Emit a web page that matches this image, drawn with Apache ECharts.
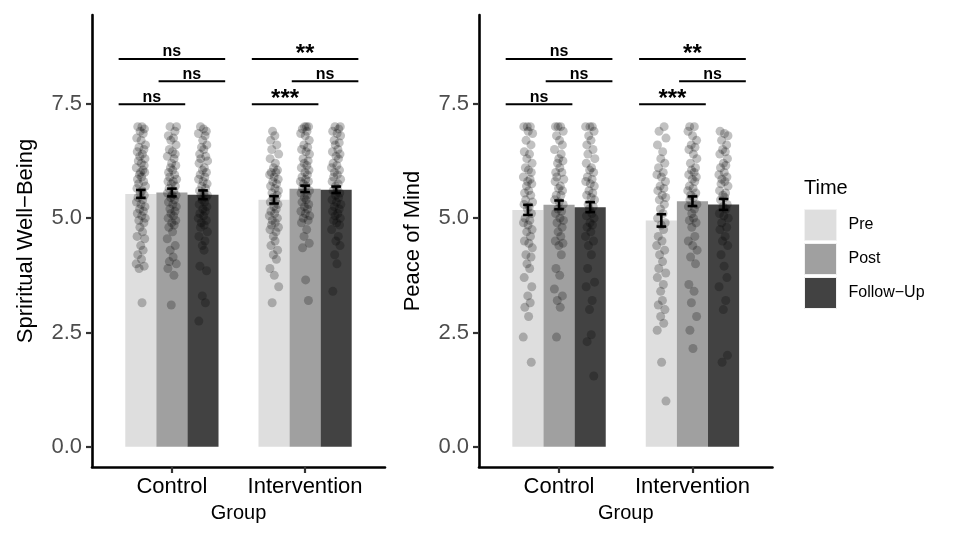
<!DOCTYPE html>
<html><head><meta charset="utf-8">
<script src="https://cdn.jsdelivr.net/npm/echarts@6/dist/echarts.min.js"></script>
<style>html,body{margin:0;padding:0;background:#fff}#c{width:956px;height:539px}</style>
</head><body><div id="c"></div>
<script>
const groups = ['Control', 'Intervention'];
const times = ['Pre', 'Post', 'Follow\u2212Up'];
const yTicks = [0, 2.5, 5, 7.5];
const xTicks = [1, 2];
const panelTitles = ['Spriritual Well\u2212Being', 'Peace of Mind'];
const xTitle = 'Group';
const legendTitle = 'Time';

// bar means and standard errors, order [Pre, Post, Follow-Up]
const swbMeanControl = [5.53, 5.56, 5.51];
const swbMeanIntervention = [5.40, 5.64, 5.62];
const swbSeControl = [0.087, 0.085, 0.095];
const swbSeIntervention = [0.08, 0.07, 0.07];
const pomMeanControl = [5.18, 5.29, 5.24];
const pomMeanIntervention = [4.95, 5.37, 5.30];
const pomSeControl = [0.11, 0.095, 0.11];
const pomSeIntervention = [0.135, 0.105, 0.12];

// individual scores (read from the jittered points)
const swbControlPre = [7.0,7.0,6.95,6.9,6.85,6.75,6.7,6.6,6.55,6.5,6.45,6.4,6.35,6.3,6.25,6.2,6.15,6.1,6.05,6.0,6.0,5.95,5.9,5.85,5.8,5.75,5.7,5.65,5.6,5.55,5.5,5.45,5.4,5.35,5.3,5.25,5.2,5.15,5.1,5.05,5.0,4.95,4.9,4.8,4.7,4.6,4.55,4.4,4.3,4.2,4.1,4.0,3.95,3.9,3.15];
const swbControlPost = [7.0,7.0,6.9,6.8,6.75,6.7,6.6,6.5,6.45,6.4,6.35,6.3,6.2,6.15,6.1,6.05,6.0,5.95,5.9,5.85,5.8,5.8,5.75,5.7,5.65,5.6,5.55,5.5,5.5,5.45,5.4,5.35,5.3,5.25,5.2,5.15,5.1,5.05,5.0,4.95,4.9,4.85,4.8,4.7,4.55,4.4,4.3,4.15,4.05,4.0,3.9,3.75,3.1];
const swbControlFollow = [7.0,6.95,6.9,6.85,6.8,6.7,6.6,6.55,6.5,6.4,6.35,6.3,6.25,6.2,6.1,6.05,6.0,5.95,5.9,5.85,5.8,5.75,5.7,5.65,5.6,5.55,5.5,5.5,5.45,5.4,5.35,5.3,5.25,5.2,5.15,5.1,5.05,5.0,4.95,4.9,4.85,4.8,4.7,4.6,4.5,4.4,4.3,3.95,3.85,3.3,3.15,2.75];
const swbInterventionPre = [6.9,6.8,6.7,6.6,6.5,6.4,6.3,6.2,6.1,6.05,6.0,6.0,5.95,5.9,5.85,5.8,5.75,5.7,5.65,5.6,5.55,5.5,5.45,5.4,5.35,5.3,5.25,5.2,5.15,5.1,5.05,5.0,4.95,4.9,4.85,4.8,4.75,4.7,4.6,4.5,4.4,4.3,4.2,4.1,3.9,3.75,3.5,3.15];
const swbInterventionPost = [7.0,7.0,7.0,6.95,6.9,6.85,6.8,6.7,6.6,6.55,6.5,6.45,6.4,6.3,6.25,6.2,6.15,6.1,6.05,6.0,5.95,5.9,5.85,5.8,5.8,5.75,5.7,5.65,5.6,5.55,5.5,5.45,5.4,5.35,5.3,5.25,5.2,5.15,5.1,5.05,5.0,4.95,4.9,4.75,4.6,4.45,4.35,3.65,3.2];
const swbInterventionFollow = [7.0,7.0,6.95,6.9,6.85,6.8,6.7,6.65,6.6,6.5,6.45,6.4,6.35,6.3,6.2,6.15,6.1,6.05,6.0,5.95,5.9,5.85,5.8,5.75,5.7,5.65,5.6,5.55,5.5,5.45,5.4,5.35,5.3,5.25,5.2,5.15,5.1,5.05,5.0,4.95,4.9,4.85,4.75,4.6,4.5,4.4,4.2,4.0,3.4];
const pomControlPre = [7.0,7.0,7.0,6.9,6.85,6.7,6.6,6.45,6.4,6.3,6.2,6.1,6.05,6.0,5.9,5.85,5.8,5.75,5.7,5.6,5.55,5.5,5.4,5.35,5.3,5.25,5.2,5.1,5.0,4.95,4.9,4.85,4.75,4.7,4.6,4.5,4.45,4.35,4.2,4.15,4.0,3.9,3.7,3.5,3.3,3.15,3.05,2.85,2.4,1.85];
const pomControlPost = [7.0,7.0,7.0,6.9,6.8,6.7,6.6,6.5,6.4,6.3,6.25,6.2,6.1,6.0,6.0,5.9,5.85,5.8,5.7,5.65,5.6,5.5,5.5,5.4,5.35,5.3,5.2,5.15,5.1,5.0,4.95,4.9,4.8,4.7,4.6,4.5,4.45,4.4,4.2,3.9,3.75,3.45,3.3,3.2,3.05,2.4];
const pomControlFollow = [7.0,7.0,7.0,6.9,6.8,6.7,6.6,6.5,6.4,6.3,6.2,6.1,6.05,6.0,5.9,5.85,5.8,5.75,5.7,5.6,5.55,5.5,5.45,5.4,5.3,5.25,5.2,5.1,5.05,5.0,4.9,4.85,4.8,4.7,4.6,4.5,4.4,4.2,3.9,3.6,3.5,3.2,3.0,2.45,2.3,1.55];
const pomInterventionPre = [7.0,6.9,6.75,6.6,6.45,6.3,6.2,6.1,6.0,5.95,5.9,5.8,5.7,5.65,5.6,5.5,5.45,5.4,5.3,5.2,5.1,5.0,4.9,4.85,4.75,4.6,4.5,4.4,4.3,4.2,4.05,3.9,3.8,3.7,3.55,3.4,3.2,3.1,3.0,2.85,2.7,2.55,1.85,1.0];
const pomInterventionPost = [7.0,7.0,6.9,6.8,6.7,6.6,6.55,6.5,6.4,6.3,6.2,6.1,6.05,6.0,5.95,5.9,5.85,5.8,5.7,5.65,5.6,5.55,5.5,5.45,5.4,5.3,5.25,5.2,5.1,5.0,4.95,4.9,4.8,4.6,4.5,4.4,4.3,4.15,4.0,3.55,3.4,3.15,2.85,2.55,2.15];
const pomInterventionFollow = [6.9,6.85,6.8,6.7,6.6,6.5,6.45,6.4,6.3,6.2,6.15,6.1,6.0,5.95,5.9,5.85,5.8,5.75,5.7,5.6,5.55,5.5,5.45,5.4,5.3,5.25,5.2,5.1,5.05,5.0,4.9,4.8,4.75,4.6,4.5,4.4,4.2,3.95,3.7,3.5,3.2,3.0,2.0,1.85];

// horizontal jitter offsets (group units), hand-listed
const jitter = [0.008,-0.023,0.027,-0.005,0.018,-0.031,0.002,0.035,-0.014,0.023,-0.027,0.012,-0.008,0.031,-0.019,0.004,0.025,-0.034,0.016,-0.002,0.029,-0.011,0.006,-0.025,0.021,-0.017,0.035,-0.029,0.010,-0.004,0.026,-0.021,0.014,-0.033,0.001,0.031,-0.009,0.019,-0.026,0.007,0.033,-0.015,0.023,-0.007,0.013,-0.028,0.029,-0.001,0.017,-0.023,0.005,-0.035,0.025,-0.013,0.009,-0.019,0.033,-0.030,0.015,-0.005];

// significance brackets
const bracketStart = [0.6, 0.9, 0.6, 1.6, 1.9, 1.6];
const bracketEnd = [1.1, 1.4, 1.4, 2.1, 2.4, 2.4];
const bracketY = [7.49, 7.99, 8.48, 7.49, 7.99, 8.48];
const swbSignif = ['ns', 'ns', 'ns', '***', 'ns', '**'];
const pomSignif = ['ns', 'ns', 'ns', '***', 'ns', '**'];

// ---------- build ----------
const FONT = '"Liberation Sans", Arial, sans-serif';
const fills = ['#DEDEDE', '#A0A0A0', '#424242'];
const dodge = [-0.2333, 0, 0.2333];
const halfBar = 0.1167;
const capHalf = 0.036;

const panels = [
  { means: [swbMeanControl, swbMeanIntervention], ses: [swbSeControl, swbSeIntervention],
    pts: [[swbControlPre, swbControlPost, swbControlFollow], [swbInterventionPre, swbInterventionPost, swbInterventionFollow]],
    signif: swbSignif },
  { means: [pomMeanControl, pomMeanIntervention], ses: [pomSeControl, pomSeIntervention],
    pts: [[pomControlPre, pomControlPost, pomControlFollow], [pomInterventionPre, pomInterventionPost, pomInterventionFollow]],
    signif: pomSignif }
];

const grids = [
  { left: 92, right: 571, top: 15, bottom: 72 },
  { left: 479, right: 183.5, top: 15, bottom: 72 }
];

const xAxes = [], yAxes = [], series = [];
panels.forEach((P, p) => {
  xAxes.push({
    type: 'value', gridIndex: p, min: 0.4, max: 2.6,
    name: xTitle, nameLocation: 'middle', nameGap: 36,
    nameTextStyle: { fontSize: 20, color: '#000', fontFamily: FONT },
    axisLine: { show: true, onZero: false, lineStyle: { color: '#000', width: 2.6 } },
    axisTick: { show: true, customValues: xTicks, length: 6, lineStyle: { color: '#333', width: 2.2 } },
    axisLabel: { show: true, customValues: xTicks, formatter: v => groups[Math.round(v) - 1], fontSize: 22, color: '#000', fontFamily: FONT, margin: 9 },
    splitLine: { show: false }
  });
  yAxes.push({
    type: 'value', gridIndex: p, min: -0.44, max: 9.44,
    name: panelTitles[p], nameLocation: 'middle', nameGap: 55, nameRotate: 90,
    nameTextStyle: { fontSize: 22, color: '#000', fontFamily: FONT },
    axisLine: { show: true, onZero: false, lineStyle: { color: '#000', width: 2.6 } },
    axisTick: { show: true, customValues: yTicks, length: 6, lineStyle: { color: '#333', width: 2.2 } },
    axisLabel: { show: true, customValues: yTicks, formatter: v => v.toFixed(1), fontSize: 22, color: '#4D4D4D', fontFamily: FONT, margin: 10 },
    splitLine: { show: false }
  });

  // bars
  times.forEach((t, ti) => {
    series.push({
      type: 'custom', name: t, xAxisIndex: p, yAxisIndex: p, z: 1,
      itemStyle: { color: fills[ti] },
      encode: { x: 0, y: 1 },
      data: groups.map((g, gi) => [gi + 1 + dodge[ti], P.means[gi][ti]]),
      renderItem: (params, api) => {
        const x = api.value(0), y = api.value(1);
        const a = api.coord([x - halfBar, y]);
        const b = api.coord([x + halfBar, 0]);
        return { type: 'rect', shape: { x: a[0], y: a[1], width: b[0] - a[0], height: b[1] - a[1] }, style: { fill: fills[ti] } };
      }
    });
  });

  // jittered points
  const pts = [];
  let k = 0;
  groups.forEach((g, gi) => {
    times.forEach((t, ti) => {
      const arr = P.pts[gi][ti];
      const shift = k * 7 + p * 3;
      arr.forEach((v, i) => {
        pts.push([gi + 1 + dodge[ti] + jitter[(i + shift) % jitter.length], v]);
      });
      k++;
    });
  });
  series.push({
    type: 'scatter', name: 'points', xAxisIndex: p, yAxisIndex: p, z: 2,
    symbol: 'circle', symbolSize: 9, silent: true,
    itemStyle: { color: 'rgba(0,0,0,0.3)' },
    data: pts
  });

  // error bars
  const eb = [];
  groups.forEach((g, gi) => times.forEach((t, ti) => eb.push([gi + 1 + dodge[ti], P.means[gi][ti], P.ses[gi][ti]])));
  series.push({
    type: 'custom', name: 'se', xAxisIndex: p, yAxisIndex: p, z: 3,
    encode: { x: 0, y: 1 },
    data: eb,
    renderItem: (params, api) => {
      const x = api.value(0), m = api.value(1), s = api.value(2);
      const top = api.coord([x, m + s]), bot = api.coord([x, m - s]);
      const l = api.coord([x - capHalf, m])[0], r = api.coord([x + capHalf, m])[0];
      const st = { stroke: '#000', lineWidth: 2.6 };
      return { type: 'group', children: [
        { type: 'line', shape: { x1: top[0], y1: top[1], x2: bot[0], y2: bot[1] }, style: st },
        { type: 'line', shape: { x1: l, y1: top[1], x2: r, y2: top[1] }, style: st },
        { type: 'line', shape: { x1: l, y1: bot[1], x2: r, y2: bot[1] }, style: st }
      ] };
    }
  });

  // significance brackets
  series.push({
    type: 'custom', name: 'signif', xAxisIndex: p, yAxisIndex: p, z: 3,
    encode: { x: [0, 1], y: 2 },
    data: bracketStart.map((s, i) => [s, bracketEnd[i], bracketY[i]]),
    renderItem: (params, api) => {
      const a = api.coord([api.value(0), api.value(2)]);
      const b = api.coord([api.value(1), api.value(2)]);
      const lbl = P.signif[params.dataIndex];
      const star = lbl !== 'ns';
      return { type: 'group', children: [
        { type: 'line', shape: { x1: a[0], y1: a[1], x2: b[0], y2: b[1] }, style: { stroke: '#000', lineWidth: 2 } },
        { type: 'text', x: (a[0] + b[0]) / 2, y: a[1] - (star ? 5 : 7),
          style: { text: lbl, fontSize: star ? 24 : 16, fontWeight: 'bold', fontFamily: FONT, align: 'center', verticalAlign: 'middle', fill: '#000' } }
      ] };
    }
  });
});

const chart = echarts.init(document.getElementById('c'), null, { renderer: 'canvas' });
chart.setOption({
  animation: false,
  backgroundColor: '#fff',
  grid: grids,
  xAxis: xAxes,
  yAxis: yAxes,
  legend: {
    data: times, orient: 'vertical', left: 804, top: 209, padding: 0,
    itemWidth: 32, itemHeight: 31, itemGap: 2, icon: 'rect', selectedMode: false,
    itemStyle: { borderColor: '#F2F2F2', borderWidth: 1 },
    textStyle: { fontSize: 16, color: '#000', fontFamily: FONT, padding: [0, 0, 0, 7] }
  },
  graphic: [
    { type: 'text', left: 804, top: 178, style: { text: legendTitle, fontSize: 20, fill: '#000', fontFamily: FONT } }
  ],
  series: series
});
</script></body></html>
